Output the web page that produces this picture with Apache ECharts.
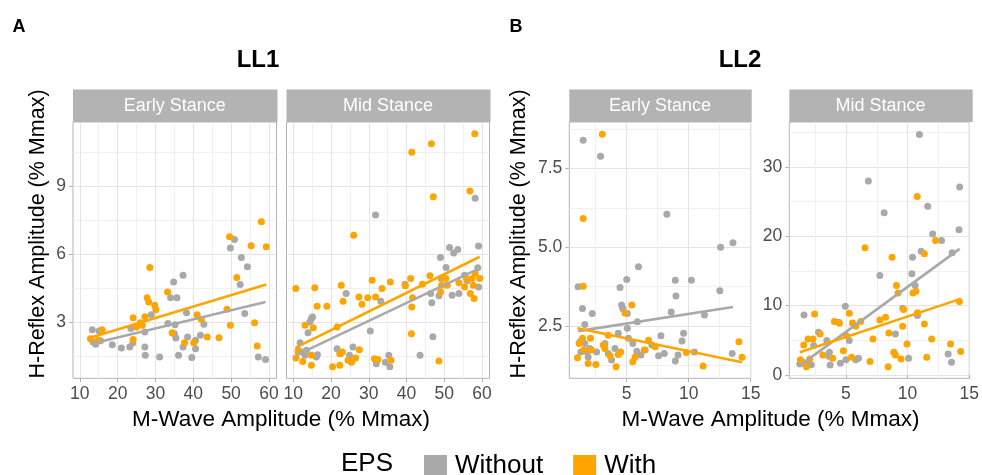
<!DOCTYPE html>
<html>
<head>
<meta charset="utf-8">
<script src="https://cdn.jsdelivr.net/npm/echarts@6/dist/echarts.min.js"></script>
<style>html,body{margin:0;padding:0;background:#fff}#main{width:982px;height:475px}</style>
</head>
<body>
<div id="main"></div>
<script>
// 数据
var ll1EarlyWithout = [[13.3,2.69],[13.5,2.15],[15.1,2.63],[14.2,2.05],[15.5,2.2],[18.6,2.03],[21.0,1.88],[23.2,1.93],[23.5,2.74],[24.0,2.1],[27.2,1.93],[27.3,1.56],[27.2,2.59],[28.9,3.35],[31.1,1.49],[33.3,2.96],[34.8,4.79],[34.0,4.10],[35.7,4.10],[37.3,5.09],[35.2,2.91],[35.0,2.51],[35.4,2.32],[36.1,1.56],[37.3,1.93],[38.2,3.44],[38.5,2.37],[39.6,1.46],[40.6,1.85],[40.6,2.22],[42.8,2.93],[41.9,2.44],[49.8,6.29],[50.9,6.66],[52.7,5.87],[52.4,4.68],[54.3,5.46],[53.6,3.40],[57.2,1.49],[59.1,1.38]];
var ll1EarlyWith = [[12.8,2.29],[14.8,2.22],[15.9,2.69],[24.1,3.21],[24.1,2.26],[25.0,2.81],[26.0,3.0],[26.5,2.88],[27.2,3.26],[27.8,4.10],[28.2,3.91],[28.5,5.43],[29.8,3.76],[30.1,3.57],[33.2,4.35],[34.4,2.56],[37.7,2.12],[40.1,2.12],[41.0,3.35],[42.1,3.15],[43.7,2.37],[46.8,2.34],[48.9,3.59],[49.8,2.88],[49.6,6.78],[51.5,4.99],[55.3,6.38],[56.2,3.0],[56.9,1.97],[58.0,7.44],[59.3,6.34]];
var ll1MidWithout = [[11.8,2.12],[11.3,1.78],[12.5,1.71],[13.5,1.78],[13.9,2.56],[14.4,3.03],[14.8,3.18],[15.1,3.25],[13.1,1.56],[16.1,1.49],[16.4,1.59],[21.6,1.85],[22.5,1.63],[24.0,4.28],[24.9,1.56],[25.8,1.93],[25.4,1.29],[30.4,2.63],[31.8,7.74],[32.0,1.19],[33.2,3.94],[34.4,1.26],[35.3,1.56],[35.6,1.06],[39.6,4.69],[43.6,1.56],[46.4,4.28],[46.7,3.87],[47.0,2.38],[48.6,4.18],[49.0,5.87],[50.5,5.43],[51.4,6.31],[52.5,6.07],[53.6,6.22],[52.1,4.21],[53.9,4.28],[55.4,5.09],[56.1,4.84],[58.2,8.47],[58.9,5.41],[59.1,6.37],[59.1,4.57],[49.2,4.94]];
var ll1MidWith = [[10.65,4.5],[10.7,1.44],[11.3,1.71],[12.5,1.29],[13.1,2.88],[14.8,1.12],[15.3,2.78],[14.8,1.56],[15.7,4.54],[16.3,3.72],[18.9,3.72],[20.4,1.06],[21.6,2.81],[22.3,1.12],[22.3,1.63],[22.7,4.65],[23.0,1.71],[23.2,3.94],[24.5,1.34],[25.4,1.26],[26.0,6.85],[26.5,1.44],[27.4,4.13],[27.5,1.81],[28.2,3.81],[29.7,4.10],[30.9,4.87],[31.8,4.13],[31.5,1.41],[32.4,1.38],[33.5,4.5],[35.7,4.79],[35.9,1.34],[39.7,4.62],[41.1,4.94],[41.4,10.5],[41.4,3.69],[41.6,4.10],[41.3,2.51],[44.2,4.69],[46.2,5.06],[46.6,10.87],[47.1,8.54],[48.6,1.31],[49.0,4.35],[49.3,4.65],[49.6,4.99],[50.4,4.94],[50.8,4.65],[53.9,4.75],[55.4,4.57],[55.9,4.94],[56.8,8.79],[56.9,4.28],[57.4,4.94],[57.9,4.06],[57.7,4.65],[58.1,11.31],[58.2,5.16],[59.4,4.94]];
var ll2EarlyWithout = [[1.49,8.40],[2.89,7.89],[1.08,3.74],[1.43,3.05],[1.62,2.54],[2.22,2.89],[1.22,1.99],[1.30,1.67],[1.62,1.94],[1.81,1.67],[2.03,1.78],[1.89,1.51],[2.57,1.67],[3.24,1.94],[3.51,1.62],[3.78,1.41],[4.05,1.78],[4.32,2.26],[4.46,3.72],[4.59,3.16],[4.68,3.05],[5.0,3.97],[5.05,2.89],[5.05,2.42],[5.14,2.10],[5.49,1.94],[5.86,2.63],[5.95,4.38],[5.81,1.69],[6.14,1.57],[6.49,1.73],[7.03,1.89],[7.57,1.55],[7.76,2.18],[8.03,1.62],[8.24,6.05],[8.59,2.94],[8.92,3.95],[8.97,3.45],[8.92,1.38],[9.14,1.57],[9.46,2.02],[9.59,2.26],[10.22,3.95],[10.46,1.67],[11.27,2.84],[12.51,3.61],[12.57,5.0],[13.57,5.14],[13.51,1.62]];
var ll2EarlyWith = [[3.03,8.59],[1.49,5.91],[1.49,3.76],[1.03,1.48],[1.16,1.94],[1.43,2.10],[1.54,1.73],[1.89,1.30],[2.08,2.10],[2.16,1.73],[2.51,1.27],[3.11,1.89],[3.24,1.78],[3.51,2.20],[3.65,1.55],[4.14,1.2],[4.32,1.59],[4.51,1.67],[4.86,2.91],[5.41,3.16],[5.49,1.36],[5.68,1.51],[6.41,1.73],[6.76,2.04],[7.30,1.83],[9.81,1.65],[11.16,1.22],[14.05,1.99],[14.3,1.5]];
var ll2MidWithout = [[1.60,8.67],[1.26,1.59],[1.52,1.83],[1.79,1.59],[2.19,1.49],[2.38,4.24],[2.78,6.16],[3.45,4.96],[3.66,3.27],[3.61,2.70],[3.72,1.44],[4.41,7.61],[4.55,1.69],[4.95,9.92],[5.27,4.96],[5.0,2.21],[5.80,2.21],[6.02,2.41],[6.82,27.97],[7.75,14.35],[8.10,23.4],[9.01,5.92],[9.60,9.63],[10.08,2.41],[10.35,14.59],[10.40,17.0],[10.61,12.9],[10.80,8.57],[10.96,34.7],[11.10,17.86],[11.63,24.36],[12.03,20.34],[12.75,19.40],[13.29,3.03],[13.56,1.83],[13.61,17.62],[14.22,27.11],[14.17,20.94]];
var ll2MidWith = [[1.31,2.21],[1.58,4.33],[1.79,1.2],[1.93,5.20],[2.06,2.31],[2.33,5.20],[2.46,8.81],[2.91,5.92],[3.13,2.89],[3.93,2.41],[4.06,7.70],[4.47,7.46],[4.79,3.51],[5.0,5.68],[5.27,8.91],[5.45,2.55],[5.53,7.51],[5.80,7.03],[6.20,7.70],[6.55,18.34],[6.95,1.93],[7.19,5.20],[7.75,7.94],[8.21,8.33],[8.42,1.2],[8.48,6.07],[8.74,17.0],[8.88,3.27],[9.01,2.89],[9.09,12.9],[9.22,11.84],[9.47,2.31],[9.60,7.03],[9.68,9.44],[9.95,4.48],[10.43,11.84],[10.67,12.09],[10.78,25.76],[10.80,8.96],[11.36,7.37],[11.36,17.48],[11.55,2.55],[11.95,5.20],[12.27,19.40],[13.48,4.48],[14.20,10.59],[14.30,3.37]];

// 回归线两端
var ll1EarlyWithoutFit = [[13.1,2.07],[59.1,3.91]];
var ll1EarlyWithFit = [[12.5,2.32],[59.3,4.68]];
var ll1MidWithoutFit = [[10.7,1.56],[59.6,5.41]];
var ll1MidWithFit = [[10.6,1.90],[59.4,5.90]];
var ll2EarlyWithoutFit = [[1.08,2.33],[13.57,3.10]];
var ll2EarlyWithFit = [[1.03,2.42],[14.3,1.34]];
var ll2MidWithoutFit = [[1.26,1.35],[14.22,18.2]];
var ll2MidWithFit = [[1.26,3.27],[14.3,10.98]];

// 刻度
var ll1XTicks = [10,20,30,40,50,60], ll1XMinor = [15,25,35,45,55];
var ll1YTicks = [3,6,9], ll1YMinor = [1.5,4.5,7.5,10.5];
var ll2XTicks = [5,10,15], ll2XMinor = [2.5,7.5,12.5];
var ll2EarlyYTicks = [2.5,5,7.5], ll2EarlyYMinor = [1.25,3.75,6.25,8.75];
var ll2MidYTicks = [0,10,20,30], ll2MidYMinor = [5,15,25,35];

var fontFam = '"Liberation Sans", Arial, sans-serif';
var grayC = '#A9A9A9', orangeC = '#FFA500';

var panels = [
  {left:73,  width:203.5, strip:'Early Stance', x:[8.2,62.0], y:[0.55,11.83], xt:ll1XTicks, xm:ll1XMinor, yt:ll1YTicks, ym:ll1YMinor, yLab:true,
   pts:[ll1EarlyWithout, ll1EarlyWith], fit:[ll1EarlyWithoutFit, ll1EarlyWithFit]},
  {left:286.5, width:203, strip:'Mid Stance', x:[8.2,62.0], y:[0.55,11.83], xt:ll1XTicks, xm:ll1XMinor, yt:ll1YTicks, ym:ll1YMinor, yLab:false,
   pts:[ll1MidWithout, ll1MidWith], fit:[ll1MidWithoutFit, ll1MidWithFit]},
  {left:569.3, width:181.4, strip:'Early Stance', x:[0.37,15.0], y:[0.83,8.98], xt:ll2XTicks, xm:ll2XMinor, yt:ll2EarlyYTicks, ym:ll2EarlyYMinor, yLab:true, fmt:function(v){return Number(v).toFixed(1);},
   pts:[ll2EarlyWithout, ll2EarlyWith], fit:[ll2EarlyWithoutFit, ll2EarlyWithFit]},
  {left:789.3, width:182.4, strip:'Mid Stance', x:[0.41,15.0], y:[-0.48,36.5], xt:ll2XTicks, xm:ll2XMinor, yt:ll2MidYTicks, ym:ll2MidYMinor, yLab:true,
   pts:[ll2MidWithout, ll2MidWith], fit:[ll2MidWithoutFit, ll2MidWithFit]}
];
var gridTop = 122, gridH = 256.3, stripTop = 89.5, stripH = 32.5;

var grids = [], xAxes = [], yAxes = [], series = [], graphics = [];
panels.forEach(function(p, i){
  grids.push({left:p.left, top:gridTop, width:p.width, height:gridH, show:true, borderColor:'#B3B3B3', borderWidth:1, backgroundColor:'#fff'});
  // 主刻度
  xAxes.push({type:'value', gridIndex:i, min:p.x[0], max:p.x[1],
    axisLine:{show:false},
    axisTick:{show:true, length:4, lineStyle:{color:'#B3B3B3'}, customValues:p.xt},
    axisLabel:{customValues:p.xt, color:'#4D4D4D', fontSize:17.5, fontFamily:fontFam, margin:7},
    splitLine:{show:true, lineStyle:{color:'#E4E4E4', width:1}}});
  // 次刻度
  xAxes.push({type:'value', gridIndex:i, min:p.x[0], max:p.x[1],
    axisLine:{show:false}, axisTick:{show:false, customValues:p.xm}, axisLabel:{show:false},
    splitLine:{show:true, lineStyle:{color:'#F0F0F0', width:1}}});
  yAxes.push({type:'value', gridIndex:i, min:p.y[0], max:p.y[1],
    axisLine:{show:false},
    axisTick:{show:p.yLab, length:4, lineStyle:{color:'#B3B3B3'}, customValues:p.yt},
    axisLabel:{show:p.yLab, customValues:p.yt, color:'#4D4D4D', fontSize:17.5, fontFamily:fontFam, margin:7, formatter:p.fmt},
    splitLine:{show:true, lineStyle:{color:'#E4E4E4', width:1}}});
  yAxes.push({type:'value', gridIndex:i, min:p.y[0], max:p.y[1],
    axisLine:{show:false}, axisTick:{show:false, customValues:p.ym}, axisLabel:{show:false},
    splitLine:{show:true, lineStyle:{color:'#F0F0F0', width:1}}});
  var names = ['Without','With'], cols = [grayC, orangeC];
  for (var k = 0; k < 2; k++) {
    series.push({type:'scatter', name:names[k], xAxisIndex:2*i, yAxisIndex:2*i, data:p.pts[k],
      symbolSize:7, itemStyle:{color:cols[k], opacity:1}, z:2});
  }
  for (var k = 0; k < 2; k++) {
    series.push({type:'line', name:names[k], xAxisIndex:2*i, yAxisIndex:2*i, data:p.fit[k],
      symbol:'none', lineStyle:{color:cols[k], width:2.6}, z:3});
  }
  // 条带
  graphics.push({type:'rect', shape:{x:p.left, y:stripTop, width:p.width+1, height:stripH}, style:{fill:'#B3B3B3'}});
  graphics.push({type:'text', x:p.left + p.width/2, y:stripTop + stripH/2,
    style:{text:p.strip, fill:'#fff', font:'18px ' + fontFam, align:'center', verticalAlign:'middle', textAlign:'center', textVerticalAlign:'middle'}});
});

function label(txt, x, y, font, rot) {
  return {type:'text', x:x, y:y, rotation:rot || 0,
    style:{text:txt, fill:'#000', font:font, align:'center', verticalAlign:'middle', textAlign:'center', textVerticalAlign:'middle'}};
}
graphics.push(label('A', 19, 27, 'bold 18px ' + fontFam));
graphics.push(label('B', 516, 27, 'bold 18px ' + fontFam));
graphics.push(label('LL1', 258, 60, 'bold 24px ' + fontFam));
graphics.push(label('LL2', 740, 60, 'bold 24px ' + fontFam));
graphics.push(label('M-Wave Amplitude (% Mmax)', 281, 420, '22.5px ' + fontFam));
graphics.push(label('M-Wave Amplitude (% Mmax)', 770.5, 420, '22.5px ' + fontFam));
graphics.push(label('H-Reflex Amplitude (% Mmax)', 38, 234, '21.5px ' + fontFam, Math.PI/2));
graphics.push(label('H-Reflex Amplitude (% Mmax)', 519, 234, '21.5px ' + fontFam, Math.PI/2));
graphics.push(label('EPS', 367, 464, '26px ' + fontFam));

var myChart = echarts.init(document.getElementById('main'));
var option = {
  animation:false,
  backgroundColor:'#fff',
  grid:grids,
  xAxis:xAxes,
  yAxis:yAxes,
  legend:{left:424, top:453, padding:0, icon:'rect', itemWidth:23, itemHeight:22, itemGap:30, selectedMode:false,
    data:['Without','With'], textStyle:{fontSize:26, color:'#000', fontFamily:fontFam, padding:[0,0,0,3]}},
  graphic:graphics,
  series:series
};
myChart.setOption(option);
</script>
</body>
</html>
